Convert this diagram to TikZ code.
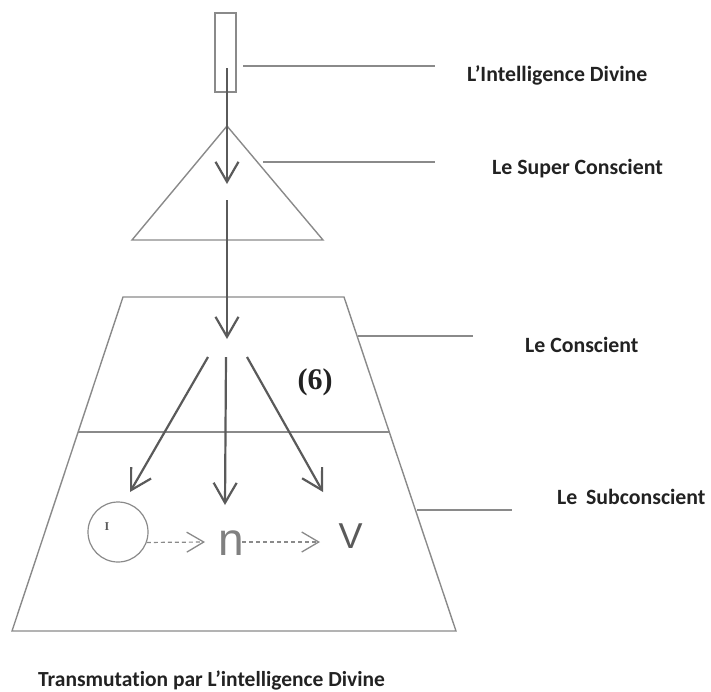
\documentclass[tikz,border=0pt]{standalone}
\usepackage{fontspec}
\setmainfont{Carlito}[Ligatures=NoCommon]
\newfontfamily\serifb{Liberation Serif}
\newfontfamily\sansn{Liberation Sans}
\usetikzlibrary{arrows.meta}
\definecolor{linegray}{HTML}{8A8A8A}
\definecolor{arrowgray}{HTML}{5A5A5A}
\definecolor{txt}{HTML}{222222}
\tikzset{
  shape line/.style={draw=linegray, line width=1.4pt},
  leader/.style={draw=linegray, line width=1.6pt},
  flow/.style={draw=arrowgray, line width=2.2pt, -{Straight Barb[length=20pt,width=23pt,line width=2.2pt]}},
  dflow/.style={draw=linegray, line width=1.2pt, dash pattern=on 4pt off 3pt, -{Straight Barb[length=17pt,width=20pt,line width=1.3pt]}},
  label/.style={text=txt, font=\bfseries\fontsize{21.8}{24}\selectfont, inner sep=0pt, anchor=west},
}
\begin{document}
\begin{tikzpicture}[x=1pt,y=-1pt]
\useasboundingbox (0,0) rectangle (711,691);
% top rectangle
\node[shape line, rectangle, minimum width=21pt, minimum height=79pt, inner sep=0pt] (divine) at (225.5,52.5) {};
% triangle
\coordinate (tA) at (227,126);
\coordinate (tL) at (132,240);
\coordinate (tR) at (323,240);
\draw[shape line] (tL) -- (tA) -- (tR) -- cycle;
% trapezoid
\coordinate (zTL) at (123,297);
\coordinate (zTR) at (344,297);
\coordinate (zBR) at (456,631);
\coordinate (zBL) at (12,631);
\draw[shape line] (zTL) -- (zTR) -- (zBR) -- (zBL) -- cycle;
\coordinate (mL) at (78,432);
\coordinate (mR) at (389,432);
\draw[shape line] (mL) -- (mR);
% labels
\node[label] (l1) at (467,75) {L’Intelligence Divine};
\node[label] (l2) at (492,169) {Le Super Conscient};
\node[label] (l3) at (525,345) {Le Conscient};
\node[label] (l4) at (557,497) {Le\hspace{0.4em}Subconscient};
\node[label, font=\bfseries\fontsize{21.5}{24}\selectfont] (l5) at (38,680) {Transmutation par L’intelligence Divine};
% leader lines
\coordinate (d1a) at (243,66);  \coordinate (d1b) at (435,66);
\coordinate (d2a) at (263,162); \coordinate (d2b) at (435,162);
\coordinate (d3a) at (358,336); \coordinate (d3b) at (473,336);
\coordinate (d4a) at (417,510); \coordinate (d4b) at (512,510);
\draw[leader] (d1a) -- (d1b);
\draw[leader] (d2a) -- (d2b);
\draw[leader] (d3a) -- (d3b);
\draw[leader] (d4a) -- (d4b);
% main arrows
\coordinate (a1s) at (227,68);  \coordinate (a1e) at (227,184);
\coordinate (a2s) at (227,200); \coordinate (a2e) at (227,339);
\draw[flow] (a1s) -- (a1e);
\draw[flow] (a2s) -- (a2e);
\coordinate (bLs) at (208,357); \coordinate (bLe) at (130,492);
\coordinate (bMs) at (226,357); \coordinate (bMe) at (225,505);
\coordinate (bRs) at (247,357); \coordinate (bRe) at (323,492);
\draw[flow] (bLs) -- (bLe);
\draw[flow] (bMs) -- (bMe);
\draw[flow] (bRs) -- (bRe);
% (6)
\node[text=txt, font=\serifb\bfseries\fontsize{30}{32}\selectfont, inner sep=0pt] (six) at (315,382) {(6)};
% circle, n, V
\node[draw=linegray, line width=1.2pt, circle, minimum size=60pt, inner sep=0pt] (c) at (118,532) {};
\node[text=arrowgray, font=\serifb\bfseries\fontsize{12}{12}\selectfont, inner sep=0pt] (mark) at (107,527) {I};
\node[text=gray, font=\sansn\fontsize{46}{46}\selectfont, inner sep=0pt, anchor=base] (n) at (231,555) {n};
\node[text=arrowgray, font=\sansn\fontsize{36}{36}\selectfont, inner sep=0pt, anchor=base] (v) at (350.5,548) {V};
\coordinate (e1) at (205,542);
\coordinate (s2) at (242,542);
\coordinate (e2) at (320,542);
\draw[dflow] (c.-20) -- (e1);
\draw[dflow] (s2) -- (e2);
\end{tikzpicture}
\end{document}
